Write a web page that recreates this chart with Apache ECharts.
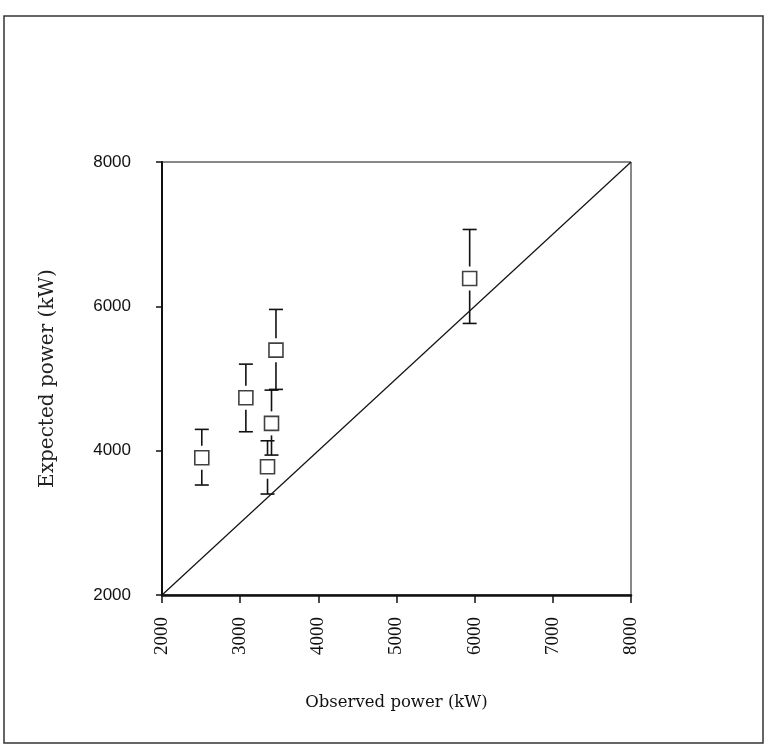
<!DOCTYPE html>
<html lang="en">
  <head>
    <meta charset="UTF-8" />
    <title>Expected vs observed power</title>
    <script src="https://cdn.jsdelivr.net/npm/echarts@6/dist/echarts.min.js"></script>
    <style>
      html, body { margin: 0; padding: 0; background: #fff; }
    </style>
  </head>
  <body>
    <div id="main" style="width: 770px; height: 754px"></div>
    <script>
      // observed power (kW)
      var observed = [2509, 3073, 3458, 3401, 3350, 5936];
      // expected power (kW) and its error range
      var expected = [3902, 4733, 5393, 4378, 3777, 6386];
      var expLow = [3524, 4262, 4849, 3939, 3399, 5763];
      var expHigh = [4295, 5199, 5957, 4839, 4137, 7065];
      // 1:1 line
      var diagonal = [[2000, 2000], [8000, 8000]];

      var points = [];
      var bars = [];
      observed.forEach(function (x, i) {
        points.push([x, expected[i]]);
        bars.push([x, expected[i], expLow[i], expHigh[i]]);
      });

      var myChart = echarts.init(document.getElementById("main"));

      function renderBar(params, api) {
        var c = api.coord([api.value(0), api.value(1)]);
        var lo = api.coord([api.value(0), api.value(2)]);
        var hi = api.coord([api.value(0), api.value(3)]);
        var gap = 12, cap = 7;
        var st = { stroke: "#111", lineWidth: 1.6 };
        var kids = [];
        if (c[1] - gap > hi[1]) {
          kids.push({ type: "line", shape: { x1: c[0], y1: hi[1], x2: c[0], y2: c[1] - gap }, style: st });
        }
        kids.push({ type: "line", shape: { x1: c[0] - cap, y1: hi[1], x2: c[0] + cap, y2: hi[1] }, style: st });
        if (c[1] + gap < lo[1]) {
          kids.push({ type: "line", shape: { x1: c[0], y1: c[1] + gap, x2: c[0], y2: lo[1] }, style: st });
        }
        kids.push({ type: "line", shape: { x1: c[0] - cap, y1: lo[1], x2: c[0] + cap, y2: lo[1] }, style: st });
        return { type: "group", children: kids };
      }

      function plain(v) {
        return String(v);
      }

      var option = {
        animation: false,
        backgroundColor: "#fff",
        graphic: [
          {
            type: "rect",
            shape: { x: 4, y: 16, width: 759, height: 727 },
            style: { fill: "none", stroke: "#333", lineWidth: 1.5 },
          },
        ],
        grid: {
          left: 162,
          right: 139,
          top: 162,
          bottom: 159,
          show: true,
          borderColor: "#111",
          borderWidth: 1,
        },
        xAxis: {
          type: "value",
          min: 2000,
          max: 8000,
          interval: 1000,
          name: "Observed power (kW)",
          nameLocation: "middle",
          nameGap: 99,
          nameTextStyle: { fontFamily: "DejaVu Serif", fontSize: 16.5, color: "#111" },
          splitLine: { show: false },
          axisLine: { lineStyle: { color: "#111", width: 2.5 } },
          axisTick: { length: 8, lineStyle: { color: "#111", width: 1.5 } },
          axisLabel: {
            rotate: 90,
            margin: 22,
            fontFamily: "Liberation Serif",
            fontSize: 19,
            color: "#111",
            formatter: plain,
          },
        },
        yAxis: {
          type: "value",
          min: 2000,
          max: 8000,
          interval: 2000,
          name: "Expected power (kW)",
          nameLocation: "middle",
          nameGap: 104,
          nameTextStyle: { fontFamily: "DejaVu Serif", fontSize: 20, color: "#222" },
          splitLine: { show: false },
          axisLine: { lineStyle: { color: "#111", width: 2 } },
          axisTick: { length: 6, lineStyle: { color: "#111", width: 1.5 } },
          axisLabel: {
            margin: 31,
            fontFamily: "Liberation Sans",
            fontSize: 17,
            color: "#111",
            formatter: plain,
          },
        },
        series: [
          {
            type: "line",
            data: diagonal,
            symbol: "none",
            lineStyle: { color: "#111", width: 1.2 },
            z: 1,
          },
          {
            type: "custom",
            data: bars,
            renderItem: renderBar,
            z: 2,
          },
          {
            type: "scatter",
            data: points,
            symbol: "rect",
            symbolSize: 14,
            itemStyle: { color: "#fff", borderColor: "#111", borderWidth: 1.6 },
            z: 3,
          },
        ],
      };
      myChart.setOption(option);
    </script>
  </body>
</html>
